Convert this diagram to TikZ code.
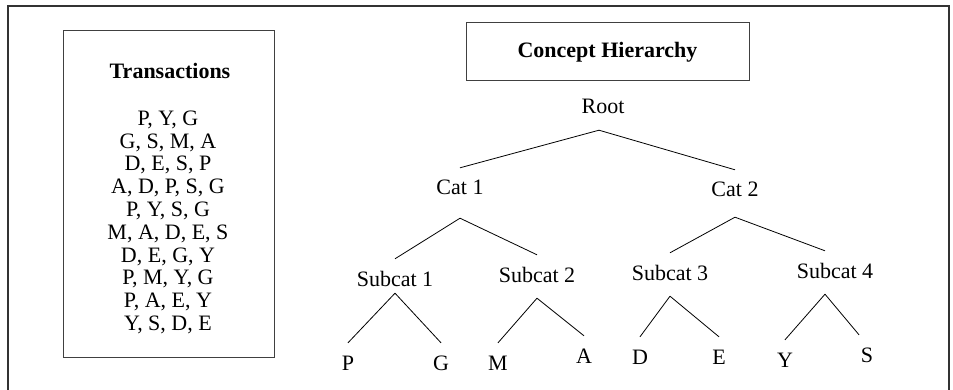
\documentclass[tikz,border=0pt]{standalone}
\usepackage{fontspec}
\setmainfont{Liberation Serif}
\usetikzlibrary{positioning}
\tikzset{
  frame/.style={draw=black!80, line width=1.4pt},
  box/.style={rectangle, draw=black!75, line width=1pt},
  tnode/.style={inner xsep=2pt, inner ysep=12pt, text height=15pt, text depth=4pt},
  branch/.style={line width=0.8pt}
}

\begin{document}
\begin{tikzpicture}[x=1pt, y=-1pt, every node/.style={font=\fontsize{22}{22.8}\selectfont}]
    \useasboundingbox (0,0) rectangle (953,390);
    % outer frame, bottom edge cut off
    \draw [frame] (8,394) -- (8,6) -- (949,6) -- (949,394);

    % transactions
    \node (trans) [box, minimum width=211pt, minimum height=326pt] at (168.5,194) {};
    \node (transtitle) at (170,71) {\textbf{Transactions}};
    \node (items) [anchor=north, align=center, inner sep=0pt] at (168,110.5)
    {P, Y, G\\ G, S, M, A\\ D, E, S, P\\ A, D, P, S, G\\ P, Y, S, G\\
     M, A, D, E, S\\ D, E, G, Y\\ P, M, Y, G\\ P, A, E, Y\\ Y, S, D, E};

    % concept hierarchy
    \node (concept) [box, minimum width=283pt, minimum height=58pt] at (607.5,52)
    {\textbf{Concept Hierarchy}};

    \node (root) [tnode] at (603,108.5) {Root};

    \node (cat1) [tnode] at (460,189.5) {Cat 1};
    \node (cat2) [tnode] at (735,191.5) {Cat 2};

    \node (sub1) [tnode] at (395,280.5) {Subcat 1};
    \node (sub2) [tnode] at (537,276.5) {Subcat 2};
    \node (sub3) [tnode] at (670,274.5) {Subcat 3};
    \node (sub4) [tnode] at (835,272.5) {Subcat 4};

    \node (p) [tnode] at (348,364.5) {P};
    \node (g) [tnode] at (441,364.5) {G};
    \node (m) [tnode] at (498,364.5) {M};
    \node (a) [tnode] at (584,357.5) {A};
    \node (d) [tnode] at (640,358.5) {D};
    \node (e) [tnode] at (719,358.5) {E};
    \node (y) [tnode] at (785,361.5) {Y};
    \node (s) [tnode] at (867,356.5) {S};

    % Branches
    \draw [branch] ([xshift=-4pt]root.south) -- (cat1.north);
    \draw [branch] ([xshift=-4pt]root.south) -- (cat2.north);

    \draw [branch] ([yshift=-7pt]cat1.south) -- (sub1.north);
    \draw [branch] ([yshift=-7pt]cat1.south) -- (sub2.north);
    \draw [branch] ([yshift=-4pt]cat2.south) -- (sub3.north);
    \draw [branch] ([yshift=-4pt]cat2.south) -- ([xshift=-10pt]sub4.north);

    \draw [branch] ([yshift=9pt]sub1.south) -- (p.north);
    \draw [branch] ([yshift=9pt]sub1.south) -- (g.north);
    \draw [branch] (sub2.south) -- (m.north);
    \draw [branch] (sub2.south) -- (a.north);
    \draw [branch] (sub3.south) -- (d.north);
    \draw [branch] (sub3.south) -- (e.north);
    \draw [branch] ([xshift=-10pt]sub4.south) -- (y.north);
    \draw [branch] ([xshift=-10pt]sub4.south) -- ([xshift=-8pt]s.north);

\end{tikzpicture}
\end{document}
